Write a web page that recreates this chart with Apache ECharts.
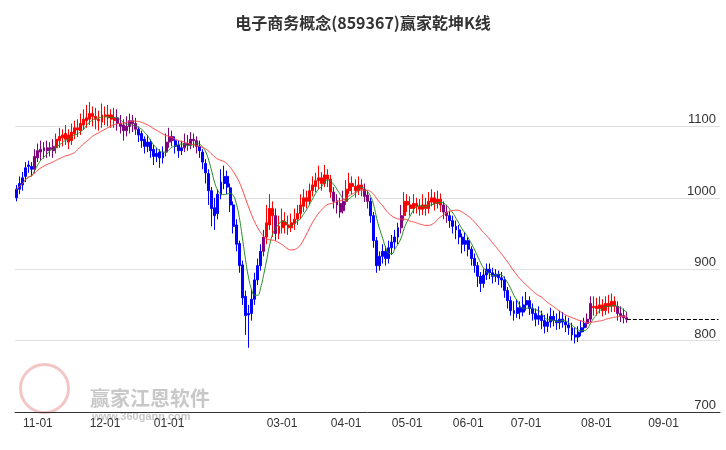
<!DOCTYPE html>
<html><head><meta charset="utf-8">
<script src="https://cdn.jsdelivr.net/npm/echarts@6/dist/echarts.min.js"></script>
<style>html,body{margin:0;padding:0;background:#fff}#c{width:726px;height:450px}</style>
</head><body><div id="c"></div>
<script>
const title = '电子商务概念(859367)赢家乾坤K线';
const yTicks = [700, 800, 900, 1000, 1100];
const holidays = ['2024-01-01','2024-02-09','2024-02-12','2024-02-13','2024-02-14','2024-02-15','2024-02-16','2024-04-04','2024-04-05','2024-05-01','2024-05-02','2024-05-03','2024-06-10'];
// [open, close, low, high]
const ohlc = [
[1000,1012,995,1018],[1012,1020,1005,1030],[1018,1028,1010,1036],[1030,1042,1022,1050],[1046,1044,1035,1052],
[1044,1040,1030,1050],[1040,1058,1035,1068],[1056,1066,1050,1076],[1064,1068,1052,1080],[1070,1066,1055,1078],
[1066,1070,1056,1080],[1070,1068,1058,1078],[1066,1072,1056,1082],[1070,1082,1062,1090],[1080,1086,1070,1098],
[1088,1084,1072,1096],[1082,1090,1074,1102],[1088,1078,1068,1096],[1080,1092,1074,1104],[1090,1098,1082,1108],
[1098,1095,1085,1110],[1094,1104,1088,1118],[1102,1110,1095,1124],[1108,1112,1098,1130],[1110,1118,1102,1134],
[1118,1114,1100,1128],[1114,1110,1096,1126],[1110,1108,1094,1122],[1106,1116,1098,1132],[1116,1114,1102,1128],
[1112,1116,1100,1130],[1116,1110,1098,1124],[1108,1112,1098,1126],[1112,1104,1094,1124],[1104,1100,1090,1116],
[1102,1094,1080,1110],[1094,1100,1086,1114],[1100,1108,1090,1118],[1108,1104,1092,1116],[1104,1096,1088,1112],
[1096,1088,1078,1100],[1090,1080,1070,1094],[1082,1072,1062,1086],[1072,1078,1064,1088],[1078,1066,1056,1082],
[1068,1058,1046,1074],[1058,1062,1050,1070],[1064,1056,1042,1068],[1056,1064,1048,1072],[1064,1078,1058,1090],
[1078,1086,1070,1098],[1086,1080,1072,1094],[1080,1072,1062,1086],[1074,1066,1056,1080],[1066,1070,1060,1080],
[1070,1076,1064,1090],[1076,1074,1066,1088],[1074,1082,1068,1092],[1082,1080,1070,1090],[1080,1072,1062,1086],
[1072,1066,1056,1080],[1064,1050,1040,1068],[1048,1035,1020,1054],[1034,1010,990,1040],[1010,985,960,1015],
[986,975,955,1000],[978,1005,970,1012],[1004,1022,998,1040],[1020,1030,1012,1045],[1030,1015,1005,1038],
[1014,990,980,1020],[990,960,950,995],[962,935,925,970],[936,905,895,940],[906,860,850,912],
[862,835,808,870],[836,838,790,850],[838,858,828,872],[858,885,850,895],[885,905,878,915],
[905,925,898,935],[925,945,918,955],[945,965,935,990],[962,985,955,1005],[985,975,945,995],
[975,950,940,985],[950,960,942,975],[958,968,950,985],[966,962,950,980],[962,958,948,975],
[958,965,952,978],[964,970,955,985],[970,978,962,990],[978,990,970,1005],[988,1000,980,1012],
[1000,995,985,1010],[995,1010,990,1020],[1010,1018,1002,1030],[1016,1024,1008,1035],[1024,1028,1012,1045],
[1028,1020,1010,1036],[1020,1032,1015,1046],[1032,1026,1015,1040],[1026,1008,1000,1032],[1008,995,985,1015],
[996,990,978,1005],[992,980,972,1000],[982,995,978,1010],[995,1012,990,1025],[1010,1020,1005,1035],
[1020,1016,1005,1030],[1016,1010,1000,1026],[1010,1018,1004,1030],[1018,1012,1002,1026],[1012,1002,994,1020],
[1004,995,985,1010],[995,975,965,1000],[975,940,930,980],[940,905,895,945],[905,918,898,925],
[918,925,908,935],[925,915,905,932],[915,930,908,940],[930,938,920,948],[938,945,928,955],
[945,958,935,965],[958,975,950,990],[975,995,968,1008],[995,990,980,1005],[990,985,975,1002],
[985,992,978,1005],[992,988,978,1000],[988,984,975,998],[984,990,976,1005],[990,985,975,1000],
[985,995,978,1008],[994,1000,988,1012],[1000,992,982,1008],[992,998,985,1010],[998,990,980,1006],
[990,980,970,995],[980,975,965,990],[975,968,958,982],[968,960,950,975],[960,955,942,968],
[955,945,935,962],[945,935,922,950],[935,940,925,952],[940,928,918,945],[928,915,905,932],
[915,905,895,922],[905,890,875,910],[890,880,868,896],[880,892,874,900],[892,900,885,908],
[900,895,886,908],[895,890,880,902],[890,893,882,900],[893,888,878,898],[888,885,874,896],
[885,870,860,890],[870,856,845,875],[856,842,835,862],[842,838,828,855],[838,846,832,858],
[846,840,830,855],[840,850,834,862],[850,856,842,868],[856,845,836,862],[845,838,828,852],
[838,830,820,845],[830,835,822,848],[835,828,816,842],[828,820,810,836],[820,826,812,838],
[826,834,818,846],[834,828,820,842],[828,825,815,838],[825,830,816,842],[830,826,818,840],
[826,822,812,835],[822,818,808,832],[818,808,800,825],[808,805,796,818],[805,812,798,820],
[812,818,806,828],[818,824,812,832],[824,830,818,838],[830,852,826,862],[846,848,835,862],
[848,845,835,860],[845,850,838,862],[850,842,834,858],[842,852,836,862],[852,848,838,864],
[848,855,840,866],[855,848,840,862],[848,838,828,855],[838,835,826,848],[835,832,824,845],
[832,830,825,840]
];
// candle colour kind: B blue, P purple, R red
const kinds = 'BBBBBB'+'PPPPPPP'+'RRRRRRRRRRRRRRRRRRRR'+'PPPPPPP'+'BBBBBBBBB'+'PPP'+'BBB'+'PPPPP'+
  'BBBBBBBBBBBBBBBBBBBBB'+'P'+'RRR'+'P'+'RRRRRRRRRRRRRRRRRR'+'PPPP'+'RRRRRR'+'PP'+'BBBBBBBBBB'+'P'+
  'RRRRRRRRRRRRR'+'PP'+'BBBBBBBBBBBBBBBBBBBBBBBBBBBBBBBBBBBBBBBBBBBBB'+'PP'+'RRRRRRRR'+'PPPP';
const colorOf = {B:'#0000ff', P:'#800080', R:'#ff0000'};

const cats = [];
let d = new Date(Date.UTC(2023,9,23));
while (cats.length < 231) {
  const wd = d.getUTCDay();
  const s = d.toISOString().slice(0,10);
  if (wd !== 0 && wd !== 6 && holidays.indexOf(s) < 0) cats.push(s);
  d = new Date(d.getTime() + 86400000);
}
const showIdx = {};
for (let i = 1; i < cats.length; i++) {
  const m = cats[i].slice(5,7);
  if (m !== cats[i-1].slice(5,7) && m !== '02') showIdx[i] = m + '-01';
}
function ma(n) {
  return ohlc.map((r, i) => {
    const s = ohlc.slice(Math.max(0, i-n+1), i+1);
    return +(s.reduce((a, b) => a + b[1], 0) / s.length).toFixed(2);
  });
}
const candles = ohlc.map((r, i) => {
  const c = colorOf[kinds[i]];
  return {value: r, itemStyle: {color: c, color0: c, borderColor: c, borderColor0: c}};
});
const last = ohlc[ohlc.length-1][1];
const chart = echarts.init(document.getElementById('c'));
chart.setOption({
  animation: false,
  title: {text: title, left: 'center', top: 10, textStyle: {fontSize: 16, fontWeight: 'bold', color: '#333', fontFamily: 'Noto Sans CJK SC'}},
  grid: {left: 15, right: 6, top: 55, bottom: 38},
  xAxis: {type: 'category', data: cats, boundaryGap: true,
    axisLine: {lineStyle: {color: '#333'}},
    axisTick: {interval: i => !!showIdx[i], lineStyle: {color: '#333'}, length: 5},
    axisLabel: {interval: i => !!showIdx[i], formatter: (v, i) => showIdx[i] || '', color: '#333', fontSize: 12, margin: 6},
    splitLine: {show: false}},
  yAxis: {type: 'value', position: 'right', min: 700, max: 1200, interval: 100,
    axisLine: {show: false}, axisTick: {show: false},
    splitLine: {show: true, showMaxLine: false, showMinLine: false, lineStyle: {color: '#e0e0e0'}},
    axisLabel: {inside: true, color: '#333', fontSize: 13, margin: 4, verticalAlign: 'bottom',
      formatter: v => yTicks.indexOf(v) >= 0 ? String(v) : ''}},
  series: [
    {type: 'candlestick', data: candles, barWidth: '80%',
      markLine: {symbol: 'none', silent: true, label: {show: false},
        lineStyle: {color: '#000', type: 'dashed', width: 1},
        data: [[{coord: [ohlc.length-1, last]}, {coord: [cats.length-1, last]}]]}},
    {type: 'line', data: ma(6), smooth: true, showSymbol: false, lineStyle: {color: '#228b22', width: 1}},
    {type: 'line', data: ma(20), smooth: true, showSymbol: false, lineStyle: {color: '#ff4040', width: 1}}
  ],
  graphic: [
    {type: 'circle', left: 18, top: 362, shape: {r: 24}, style: {fill: 'none', stroke: '#f3c6c6', lineWidth: 3}},
    {type: 'text', left: 90, top: 388, style: {text: '赢家江恩软件', fill: '#c8c8c8', font: 'bold 20px "Noto Sans CJK SC"'}},
    {type: 'text', left: 92, top: 411, style: {text: 'www.360gann.com', fill: '#c8c8c8', font: 'bold 11px sans-serif'}}
  ]
});
</script></body></html>
